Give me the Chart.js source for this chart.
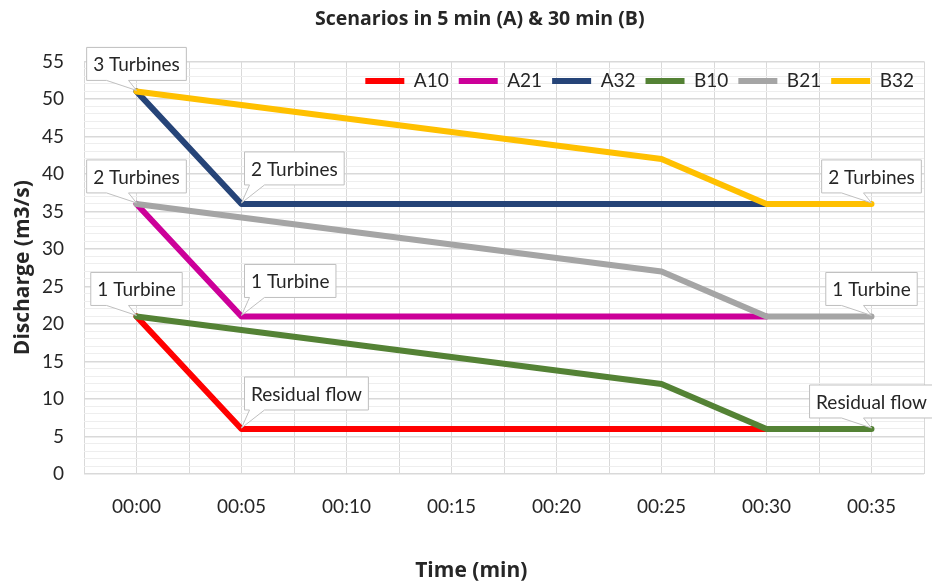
<!DOCTYPE html>
<html>
<head>
<meta charset="utf-8">
<script src="https://cdn.jsdelivr.net/npm/chart.js@4/dist/chart.umd.min.js"></script>
<style>
  html, body { margin: 0; padding: 0; background: #fff; }
  #wrap { width: 932px; height: 586px; }
</style>
</head>
<body>
<div id="wrap"><canvas id="scenarioChart"></canvas></div>
<script>
// Time axis (categories)
var timeLabels = ['00:00', '00:05', '00:10', '00:15', '00:20', '00:25', '00:30', '00:35'];

// Discharge values (m3/s), null where the scenario has no point
var A10 = [21, 6, 6, 6, 6, 6, 6, null];
var A21 = [36, 21, 21, 21, 21, 21, 21, null];
var A32 = [51, 36, 36, 36, 36, 36, 36, null];
var B10 = [21, null, null, null, null, 12, 6, 6];
var B21 = [36, null, null, null, null, 27, 21, 21];
var B32 = [51, null, null, null, null, 42, 36, 36];

var seriesNames = ['A10', 'A21', 'A32', 'B10', 'B21', 'B32'];
var seriesValues = [A10, A21, A32, B10, B21, B32];
var seriesColors = ['#ff0000', '#cc0099', '#264478', '#548235', '#a5a5a5', '#ffc000'];

// Y axis range
var yMax = 55;
var yLabelStep = 5;

// Callout labels attached to points
var calloutSeries = ['A32', 'A21', 'A10', 'A32', 'A21', 'A10', 'B32', 'B21', 'B10'];
var calloutIndex = [0, 0, 0, 1, 1, 1, 7, 7, 7];
var calloutText = ['3 Turbines', '2 Turbines', '1 Turbine', '2 Turbines', '1 Turbine', 'Residual flow', '2 Turbines', '1 Turbine', 'Residual flow'];

var FONT = 'Lato';
var BOLD_FONT = 'Open Sans';
var TEXT_COLOR = '#262626';

function toPoints(values) {
    return values.map(function (v, i) { return { x: i, y: v }; });
}

// Let the legend take no room, so it sits inside the plot like the original
var legendInsidePlugin = {
    id: 'legendInside',
    beforeLayout: function (chart) {
        var legend = chart.legend;
        if (legend && !legend._patched) {
            var fit = legend.fit;
            legend.fit = function () {
                fit.call(this);
                this._realHeight = this.height;
                this.height = 0;
            };
            legend._patched = true;
        }
    },
    afterLayout: function (chart) {
        var legend = chart.legend;
        if (legend) {
            legend.height = legend._realHeight;
            legend.bottom = legend.top + legend._realHeight;
        }
    }
};

// Draw the white callout boxes with a pointer
var calloutPlugin = {
    id: 'callouts',
    afterDatasetsDraw: function (chart) {
        var ctx = chart.ctx;
        ctx.save();
        ctx.font = '19px ' + FONT;
        ctx.textBaseline = 'middle';
        ctx.textAlign = 'center';
        for (var k = 0; k < calloutText.length; k++) {
            var ds = seriesNames.indexOf(calloutSeries[k]);
            var pt = chart.getDatasetMeta(ds).data[calloutIndex[k]];
            var px = pt.x, py = pt.y;
            var w = ctx.measureText(calloutText[k]).width + 13;
            var h = 33;
            var left, bottom, b0, b1;
            var isEnd = calloutIndex[k] === 0 || calloutIndex[k] === timeLabels.length - 1;
            if (isEnd) {
                left = px - w / 2;
                bottom = py - 11;
                b0 = px - 30;
                b1 = px - 8;
            } else {
                left = px + 3;
                bottom = py - 19;
                b0 = left + 5;
                b1 = left + 20;
            }
            var top = bottom - h, right = left + w;
            ctx.beginPath();
            ctx.moveTo(left, top);
            ctx.lineTo(right, top);
            ctx.lineTo(right, bottom);
            ctx.lineTo(b1, bottom);
            ctx.lineTo(px, py - 1);
            ctx.lineTo(b0, bottom);
            ctx.lineTo(left, bottom);
            ctx.closePath();
            ctx.fillStyle = '#ffffff';
            ctx.fill();
            ctx.strokeStyle = '#bfbfbf';
            ctx.lineWidth = 1;
            ctx.stroke();
            ctx.fillStyle = TEXT_COLOR;
            ctx.fillText(calloutText[k], left + w / 2, top + h / 2 + 1);
        }
        ctx.restore();
    }
};

var datasets = seriesNames.map(function (name, i) {
    return {
        label: name,
        data: toPoints(seriesValues[i]),
        borderColor: seriesColors[i],
        backgroundColor: seriesColors[i],
        borderWidth: 6,
        borderCapStyle: 'round',
        borderJoinStyle: 'round',
        pointRadius: 0,
        pointStyle: 'line',
        spanGaps: true,
        tension: 0,
        // B scenarios are drawn above A scenarios
        order: name.charAt(0) === 'B' ? 0 : 1
    };
});

var ctx = document.getElementById('scenarioChart').getContext('2d');
var chart = new Chart(ctx, {
    type: 'line',
    data: { datasets: datasets },
    plugins: [legendInsidePlugin, calloutPlugin],
    options: {
        responsive: true,
        maintainAspectRatio: false,
        animation: false,
        layout: { padding: { left: 0, right: 8, top: 0, bottom: 0 } },
        plugins: {
            title: {
                display: true,
                // leading spaces nudge the title right, as in the original
                text: '       Scenarios in 5 min (A) & 30 min (B)',
                color: TEXT_COLOR,
                font: { family: BOLD_FONT, size: 19.5, weight: 'bold' },
                padding: { top: 8, bottom: 30 }
            },
            legend: {
                position: 'top',
                align: 'end',
                labels: {
                    usePointStyle: true,
                    pointStyle: 'line',
                    pointStyleWidth: 39,
                    boxHeight: 6,
                    padding: 10,
                    color: TEXT_COLOR,
                    font: { family: FONT, size: 19 },
                    // keep the legend in series order
                    sort: function (a, b) { return a.datasetIndex - b.datasetIndex; }
                }
            },
            tooltip: { enabled: false }
        },
        scales: {
            x: {
                type: 'linear',
                min: -0.5,
                max: timeLabels.length - 0.5,
                afterFit: function (scale) { scale.height = 112; },
                ticks: {
                    stepSize: 0.5,
                    autoSkip: false,
                    maxRotation: 0,
                    padding: 0,
                    color: TEXT_COLOR,
                    font: { family: FONT, size: 19 },
                    callback: function (v) {
                        return Number.isInteger(v) ? timeLabels[v] : '';
                    }
                },
                grid: { color: '#d9d9d9', drawTicks: true, tickLength: 21, tickColor: 'rgba(0,0,0,0)', z: -1 },
                border: { display: false },
                title: {
                    display: true,
                    // trailing spaces nudge the axis title left, as in the original
                    text: 'Time (min)            ',
                    color: TEXT_COLOR,
                    font: { family: BOLD_FONT, size: 21, weight: 'bold' },
                    padding: { top: 0, bottom: 2 }
                }
            },
            y: {
                min: 0,
                max: yMax,
                afterFit: function (scale) { scale.width = 84; },
                ticks: {
                    stepSize: 1,
                    autoSkip: false,
                    padding: 20,
                    color: TEXT_COLOR,
                    font: { family: FONT, size: 19 },
                    callback: function (v) {
                        return v % yLabelStep === 0 ? v : '';
                    }
                },
                grid: {
                    drawTicks: false,
                    z: -1,
                    color: function (c) {
                        return c.tick && c.tick.value % yLabelStep === 0 ? '#d9d9d9' : '#eeeeee';
                    },
                    lineWidth: function (c) {
                        return c.tick && c.tick.value % yLabelStep === 0 ? 1.5 : 1;
                    }
                },
                border: { display: false },
                title: {
                    display: true,
                    text: 'Discharge (m3/s)',
                    color: TEXT_COLOR,
                    font: { family: BOLD_FONT, size: 21, weight: 'bold' },
                    padding: { top: 10, bottom: 0 }
                }
            }
        }
    }
});
</script>
</body>
</html>
